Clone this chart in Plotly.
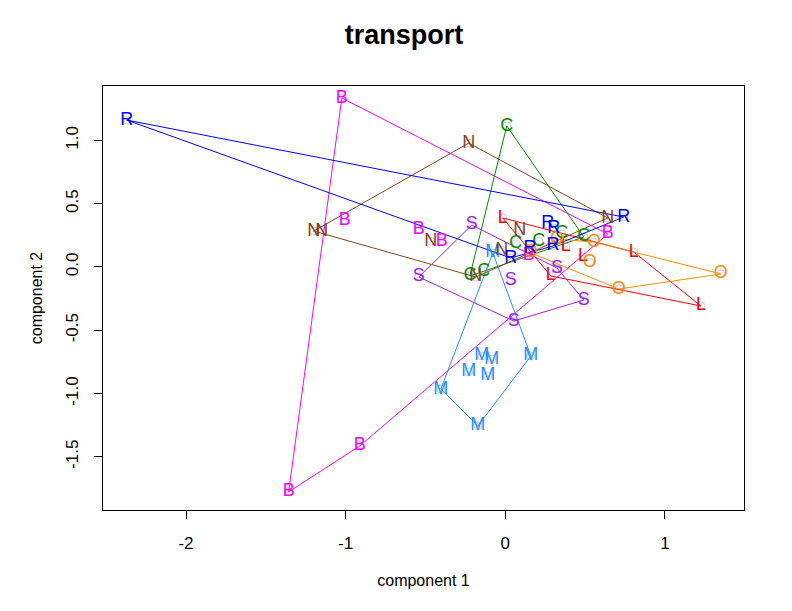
import plotly.graph_objects as go

# component scores per transport group
b_x = [-1.024, -1.006, -0.542, -0.398, -1.357, -0.912, 0.642, 0.147]
b_y = [1.335, 0.371, 0.300, 0.205, -1.777, -1.414, 0.261, 0.087]

c_x = [0.009, -0.222, -0.135, 0.066, 0.210, 0.354, 0.492]
c_y = [1.114, -0.071, -0.032, 0.182, 0.205, 0.261, 0.237]

l_x = [-0.016, 0.805, 1.225, 0.285, 0.379, 0.486]
l_y = [0.387, 0.118, -0.308, -0.071, 0.158, 0.079]

m_x = [-0.078, -0.404, -0.172, 0.160, -0.147, -0.085, -0.229, -0.110]
m_y = [0.111, -0.964, -1.256, -0.703, -0.703, -0.727, -0.829, -0.861]

n_x = [-0.229, 0.642, -1.200, -1.150, -0.467, -0.185, 0.091, -0.022]
n_y = [0.979, 0.387, 0.284, 0.284, 0.205, -0.079, 0.292, 0.134]

o_x = [0.160, 0.323, 0.555, 0.529, 1.350, 0.711]
o_y = [0.111, 0.221, 0.197, 0.039, -0.055, -0.174]

r_x = [-2.372, 0.742, 0.034, 0.266, 0.304, 0.298, 0.154]
r_y = [1.161, 0.395, 0.071, 0.340, 0.308, 0.166, 0.150]

s_x = [-0.210, -0.542, 0.053, 0.492, 0.034, 0.323]
s_y = [0.332, -0.079, -0.427, -0.261, -0.103, -0.008]

groups = [
    ("B", b_x, b_y, "#FF00FF"),
    ("C", c_x, c_y, "#008B00"),
    ("L", l_x, l_y, "#FF0000"),
    ("M", m_x, m_y, "#1E90FF"),
    ("N", n_x, n_y, "#8B4513"),
    ("O", o_x, o_y, "#FF8C00"),
    ("R", r_x, r_y, "#0000FF"),
    ("S", s_x, s_y, "#A020F0"),
]

x_ticks = [-2, -1, 0, 1]
y_ticks = [-1.5, -1.0, -0.5, 0.0, 0.5, 1.0]

FONT = 'Liberation Sans, Arial'


def convex_hull(xs, ys):
    """Monotone chain hull, returned closed"""
    pts = sorted(set(zip(xs, ys)))
    if len(pts) < 3:
        return pts

    def cross(o, a, b):
        return (a[0] - o[0]) * (b[1] - o[1]) - (a[1] - o[1]) * (b[0] - o[0])

    lower, upper = [], []
    for p in pts:
        while len(lower) >= 2 and cross(lower[-2], lower[-1], p) <= 0:
            lower.pop()
        lower.append(p)
    for p in reversed(pts):
        while len(upper) >= 2 and cross(upper[-2], upper[-1], p) <= 0:
            upper.pop()
        upper.append(p)
    hull = lower[:-1] + upper[:-1]
    return hull + [hull[0]]


fig = go.Figure()

# small open circles at each point
for name, xs, ys, col in groups:
    fig.add_trace(go.Scatter(
        x=xs, y=ys, mode='markers',
        marker=dict(symbol='circle-open', size=8, color='#C8C8F0', line=dict(width=1)),
        hoverinfo='skip', showlegend=False
    ))

# hulls
for name, xs, ys, col in groups:
    hull = convex_hull(xs, ys)
    fig.add_trace(go.Scatter(
        x=[p[0] for p in hull], y=[p[1] for p in hull],
        mode='lines', line=dict(color=col, width=1),
        hoverinfo='skip', showlegend=False
    ))

# letters
for name, xs, ys, col in groups:
    fig.add_trace(go.Scatter(
        x=xs, y=ys, mode='text', text=[name] * len(xs),
        textposition='middle center',
        textfont=dict(family=FONT, size=18, color=col),
        showlegend=False
    ))

axis_common = dict(
    showgrid=False, zeroline=False,
    showline=True, linecolor='black', linewidth=1, mirror=True,
    ticks='outside', ticklen=8, tickcolor='black',
    tickfont=dict(family=FONT, size=17, color='black'),
)

fig.update_layout(
    width=792, height=611,
    margin=dict(l=95, r=56, t=78, b=109),
    paper_bgcolor='white', plot_bgcolor='white',
    title=dict(text='<b>transport</b>', x=0.5, xanchor='center', y=0.957, yanchor='middle',
               font=dict(family=FONT, size=27, color='black')),
    xaxis=dict(range=[-2.52, 1.495], tickvals=x_ticks, ticktext=[str(v) for v in x_ticks],
               ticklabelstandoff=10,
               title=dict(text='component 1', standoff=22,
                          font=dict(family=FONT, size=16, color='black')),
               **axis_common),
    yaxis=dict(range=[-1.92, 1.43], tickvals=y_ticks, ticktext=[f'{v:.1f}' for v in y_ticks],
               tickangle=-90, ticklabelstandoff=9,
               title=dict(text='component 2', standoff=16,
                          font=dict(family=FONT, size=16, color='black')),
               **axis_common),
)

fig.write_html("out.html")
